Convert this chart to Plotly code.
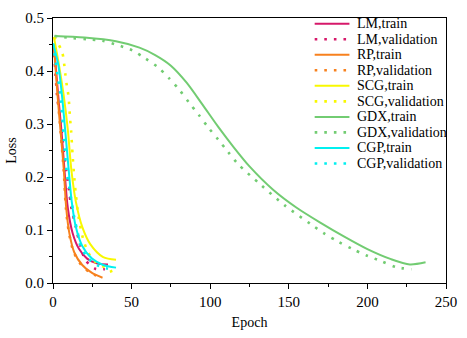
import plotly.graph_objects as go

# ---- data ----
lm_train_x = [0.5, 1.6, 3.3, 5.3, 7.3, 9.4, 12.5, 16.6, 21.7, 27.8, 35]
lm_train_y = [0.45, 0.413, 0.354, 0.29, 0.213, 0.142, 0.094, 0.064, 0.046, 0.037, 0.035]
lm_val_x = [0.5, 2.6, 5, 7.4, 9.4, 10.4, 11.5, 14.5, 16.6, 20.7, 26.8, 33]
lm_val_y = [0.45, 0.354, 0.30, 0.234, 0.192, 0.171, 0.145, 0.106, 0.079, 0.043, 0.027, 0.026]

rp_train_x = [0.5, 1.5, 3, 5, 6.9, 8.4, 10.4, 13.5, 18.6, 24.8, 31.5]
rp_train_y = [0.45, 0.41, 0.35, 0.28, 0.213, 0.142, 0.094, 0.058, 0.034, 0.019, 0.010]
rp_val_x = [0.5, 1.5, 3, 5, 6.8, 8.2, 10.2, 13.2, 18, 24, 30]
rp_val_y = [0.45, 0.41, 0.35, 0.28, 0.213, 0.142, 0.094, 0.058, 0.034, 0.019, 0.011]

scg_train_x = [0.6, 3.7, 6.8, 9.4, 11.7, 14.5, 18.6, 23.8, 31.9, 40.1]
scg_train_y = [0.464, 0.413, 0.354, 0.29, 0.213, 0.154, 0.106, 0.073, 0.049, 0.044]
scg_val_x = [0.6, 5.7, 7.8, 8.8, 9.8, 10.9, 11.5, 12.5, 13.5, 14.5, 16.5, 19, 22, 26, 31, 36, 37.7]
scg_val_y = [0.464, 0.437, 0.395, 0.372, 0.354, 0.309, 0.288, 0.24, 0.20, 0.168, 0.12, 0.085, 0.06, 0.042, 0.032, 0.027, 0.016]

gdx_train_x = [1, 20, 40, 55, 65, 75, 85, 95, 105, 115, 125, 140, 155, 170, 185, 200, 215, 227, 237]
gdx_train_y = [0.466, 0.463, 0.456, 0.444, 0.430, 0.410, 0.378, 0.337, 0.295, 0.256, 0.220, 0.176, 0.142,
               0.114, 0.088, 0.064, 0.045, 0.035, 0.039]
gdx_val_x = [1, 12.5, 21.7, 31.5, 41, 50.4, 58.6, 66.8, 73.9, 80.5, 86.6, 92.8, 98.9, 105, 111.2, 117.5,
             132.3, 147.6, 164, 172.2, 181.4, 190.6, 199.4, 209, 218.3, 228]
gdx_val_y = [0.466, 0.462, 0.460, 0.457, 0.449, 0.439, 0.424, 0.407, 0.386, 0.364, 0.340, 0.317, 0.293, 0.271,
             0.248, 0.225, 0.185, 0.146, 0.111, 0.094, 0.078, 0.064, 0.052, 0.041, 0.030, 0.026]

cgp_train_x = [0, 3.3, 5.7, 8, 10, 11.9, 14.5, 18.6, 24.8, 31.9, 40.1]
cgp_train_y = [0.452, 0.413, 0.354, 0.28, 0.213, 0.154, 0.106, 0.070, 0.046, 0.034, 0.029]
cgp_val_x = [0, 2.5, 4.7, 7, 8.6, 10.4, 13.5, 15.6, 17.6, 21.7, 27.8, 35]
cgp_val_y = [0.452, 0.40, 0.354, 0.27, 0.213, 0.18, 0.124, 0.097, 0.07, 0.049, 0.034, 0.027]

series_names = ["LM,train", "LM,validation", "RP,train", "RP,validation", "SCG,train",
                "SCG,validation", "GDX,train", "GDX,validation", "CGP,train", "CGP,validation"]
series_x = [lm_train_x, lm_val_x, rp_train_x, rp_val_x, scg_train_x, scg_val_x,
            gdx_train_x, gdx_val_x, cgp_train_x, cgp_val_x]
series_y = [lm_train_y, lm_val_y, rp_train_y, rp_val_y, scg_train_y, scg_val_y,
            gdx_train_y, gdx_val_y, cgp_train_y, cgp_val_y]
series_colors = ["#d6186a", "#d6186a", "#f7811e", "#f7811e", "#f8f800", "#f8f800",
                 "#72cc72", "#72cc72", "#00f0f0", "#00f0f0"]
series_dashed = [False, True, False, True, False, True, False, True, False, True]

DOT = "2.6px,7px"
font_family = "Liberation Serif"

fig = go.Figure()
for name, xs, ys, color, dashed in zip(series_names, series_x, series_y, series_colors, series_dashed):
    if dashed:
        line = dict(color=color, width=2.6, dash=DOT, shape="spline", smoothing=0.8)
    else:
        line = dict(color=color, width=2, shape="spline", smoothing=0.8)
    fig.add_trace(go.Scatter(x=xs, y=ys, mode="lines", name=name, line=line, showlegend=False))

# ---- legend drawn in paper coordinates (compact spacing like the reference) ----
plot_top, plot_h, plot_left, plot_w = 10, 279, 48, 407
shapes, annotations = [], []
for i, (name, color, dashed) in enumerate(zip(series_names, series_colors, series_dashed)):
    ypx = 16 + i * 16.35
    yp = 1 - (ypx - plot_top) / plot_h
    x0 = (319 - plot_left) / plot_w
    x1 = (355 - plot_left) / plot_w
    sline = dict(color=color, width=2.6 if dashed else 2)
    if dashed:
        sline["dash"] = DOT
    shapes.append(dict(type="line", xref="paper", yref="paper", x0=x0, x1=x1, y0=yp, y1=yp, line=sline))
    annotations.append(dict(text=name, xref="paper", yref="paper", x=(361 - plot_left) / plot_w, y=yp,
                            xanchor="left", yanchor="middle", showarrow=False,
                            font=dict(family=font_family, size=14, color="black")))

fig.update_layout(
    width=467, height=338,
    margin=dict(l=48, r=12, t=10, b=49),
    paper_bgcolor="white", plot_bgcolor="white",
    font=dict(family=font_family, size=15, color="black"),
    showlegend=False,
    shapes=shapes, annotations=annotations,
)
fig.update_xaxes(
    range=[0, 250], tickvals=[0, 50, 100, 150, 200, 250],
    ticks="outside", ticklen=5, tickwidth=1, tickcolor="black",
    tickfont=dict(family=font_family, size=15),
    minor=dict(tickvals=[25, 75, 125, 175, 225], ticks="outside", ticklen=3, tickcolor="black"),
    showline=True, linecolor="black", linewidth=1, mirror=True,
    showgrid=False, zeroline=False,
    title=dict(text="Epoch", font=dict(family=font_family, size=14), standoff=8),
)
fig.update_yaxes(
    range=[0, 0.5], tickvals=[0, 0.1, 0.2, 0.3, 0.4, 0.5], tickformat=".1f",
    ticks="outside", ticklen=5, tickwidth=1, tickcolor="black",
    tickfont=dict(family=font_family, size=15),
    minor=dict(tickvals=[0.05, 0.15, 0.25, 0.35, 0.45], ticks="outside", ticklen=3, tickcolor="black"),
    showline=True, linecolor="black", linewidth=1, mirror=True,
    showgrid=False, zeroline=False,
    title=dict(text="Loss", font=dict(family=font_family, size=14), standoff=5),
)

fig.write_html("out.html")
